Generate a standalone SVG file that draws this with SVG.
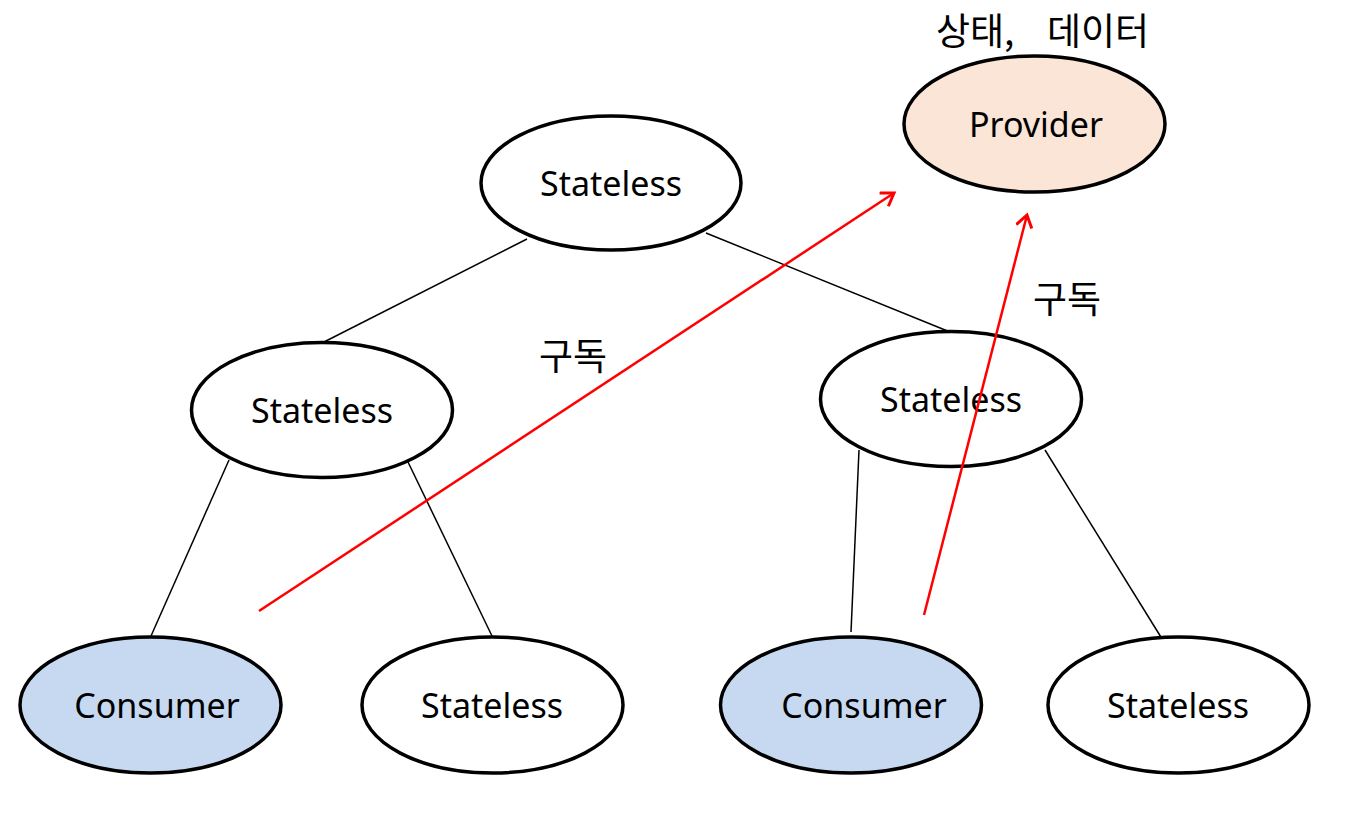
<svg xmlns="http://www.w3.org/2000/svg" width="1357" height="823" viewBox="0 0 1357 823">
<defs>
<style>
.n{stroke:#000;stroke-width:3.5}
.w{fill:#fff}
.c{fill:#C6D9F0}
.p{fill:#FBE5D6}
.t{font-family:"Noto Sans","Noto Sans CJK KR",sans-serif;font-size:34px;fill:#000;text-anchor:middle;dominant-baseline:central}
.k{font-family:"Noto Sans CJK KR","Noto Sans",sans-serif;font-size:37px;fill:#000;dominant-baseline:central}
.l{stroke:#000;stroke-width:1.5;fill:none}
.r{stroke:#FF0000;stroke-width:2.5;fill:none}
</style>
<marker id="ah" markerWidth="24" markerHeight="24" refX="14" refY="9" orient="auto" markerUnits="userSpaceOnUse">
<path d="M2,1 L14,9 L2,17" fill="none" stroke="#FF0000" stroke-width="3"/>
</marker>
</defs>
<rect width="1357" height="823" fill="#fff"/>
<g id="connectors">
<line class="l" x1="527" y1="239" x2="324" y2="342"/>
<line class="l" x1="706" y1="233" x2="950" y2="332"/>
<line class="l" x1="229" y1="460" x2="151" y2="636"/>
<line class="l" x1="408" y1="462" x2="492" y2="636"/>
<line class="l" x1="859" y1="450" x2="851" y2="632"/>
<line class="l" x1="1045" y1="450" x2="1164" y2="642"/>
</g>
<g id="provider"><ellipse class="n p" cx="1034.5" cy="124" rx="130.5" ry="68"/><text class="t" x="1036" y="124">Provider</text></g>
<text id="state-label" class="k" y="29"><tspan x="936">상태,</tspan><tspan x="1047">데이터</tspan></text>
<g id="stateless-top"><ellipse class="n w" cx="611" cy="183" rx="130" ry="67"/><text class="t" x="611" y="183">Stateless</text></g>
<g id="stateless-midleft"><ellipse class="n w" cx="322" cy="410" rx="130.5" ry="67.5"/><text class="t" x="322" y="410">Stateless</text></g>
<g id="stateless-midright"><ellipse class="n w" cx="951" cy="399" rx="130.5" ry="67.5"/><text class="t" x="951" y="399">Stateless</text></g>
<g id="consumer1"><ellipse class="n c" cx="150.5" cy="705" rx="130.5" ry="68"/><text class="t" x="157" y="705">Consumer</text></g>
<g id="stateless-b1"><ellipse class="n w" cx="492.5" cy="705" rx="130.5" ry="68"/><text class="t" x="492" y="705">Stateless</text></g>
<g id="consumer2"><ellipse class="n c" cx="851" cy="705" rx="130.5" ry="68"/><text class="t" x="864" y="705">Consumer</text></g>
<g id="stateless-b2"><ellipse class="n w" cx="1178.5" cy="705" rx="130.5" ry="68"/><text class="t" x="1178" y="705">Stateless</text></g>
<g id="subscriptions">
<line class="r" x1="259" y1="611" x2="894" y2="193" marker-end="url(#ah)"/>
<line class="r" x1="924" y1="615" x2="1027" y2="215" marker-end="url(#ah)"/>
</g>
<text class="k" x="539" y="354">구독</text>
<text class="k" x="1033" y="297">구독</text>
</svg>
